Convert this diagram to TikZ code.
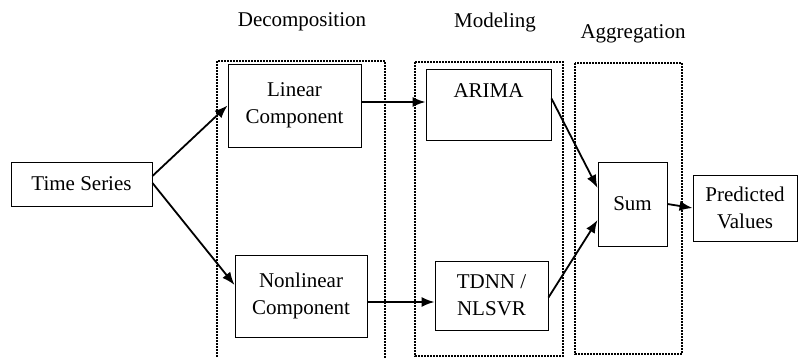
\documentclass[tikz,border=0pt]{standalone}
\usepackage{fontspec}
\setmainfont{Liberation Serif}
\usetikzlibrary{arrows.meta}

\begin{document}
\begin{tikzpicture}[x=1pt, y=-1pt,
    box/.style={draw, line width=0.9pt, align=center, inner sep=0pt},
    group/.style={draw, line width=1.3pt, dash pattern=on 2pt off 1pt},
    flow/.style={-{Latex[length=13pt,width=10pt]}, line width=1.8pt},
    font=\fontsize{21}{27}\selectfont]
    \useasboundingbox (0,0) rectangle (798,358);

    % titles
    \node (tdec) at (302, 22) {Decomposition};
    \node (tmod) at (495, 22) {Modeling};
    \node (tagg) at (633, 34) {Aggregation};

    % dotted stage frames
    \draw[group] (217, 360) |- (385, 61) -- (385, 360);
    \draw[group] (415, 62) rectangle (563, 356);
    \draw[group] (575, 63) rectangle (682, 354);

    \node[box, minimum width=141pt, minimum height=44pt] (ts) at (81.5, 184) {Time Series};
    \node[box, minimum width=133pt, minimum height=83pt] (lin) at (294.5, 105.5) {Linear\\Component};
    \node[box, minimum width=132pt, minimum height=82pt] (nonlin) at (301, 296) {Nonlinear\\Component};
    \node[box, minimum width=125pt, minimum height=71pt] (arima) at (488.5, 104.5) {ARIMA\\~};
    \node[box, minimum width=113pt, minimum height=69pt] (tdnn) at (491.5, 295.5) {TDNN /\\NLSVR};
    \node[box, minimum width=69pt, minimum height=84pt] (sum) at (632.5, 204) {Sum};
    \node[box, minimum width=104pt, minimum height=66pt] (pred) at (745, 208) {Predicted\\Values};

    % arrows
    \draw[flow] ([yshift=8pt]ts.east) -- (lin.west);
    \draw[flow] ([yshift=1pt]ts.east) -- ([yshift=11pt]nonlin.west);
    \draw[flow] ([yshift=3.5pt]lin.east) -- ([yshift=3.5pt]lin.east -| arima.west);
    \draw[flow] ([yshift=-6pt]nonlin.east) -- ([yshift=-6pt]nonlin.east -| tdnn.west);
    \draw[flow] ([yshift=6pt]arima.east) -- ([yshift=16pt]sum.west);
    \draw[flow] ([yshift=-2pt]tdnn.east) -- ([yshift=-16pt]sum.west);
    \draw[flow] (sum.east) -- (pred.west);
\end{tikzpicture}
\end{document}
